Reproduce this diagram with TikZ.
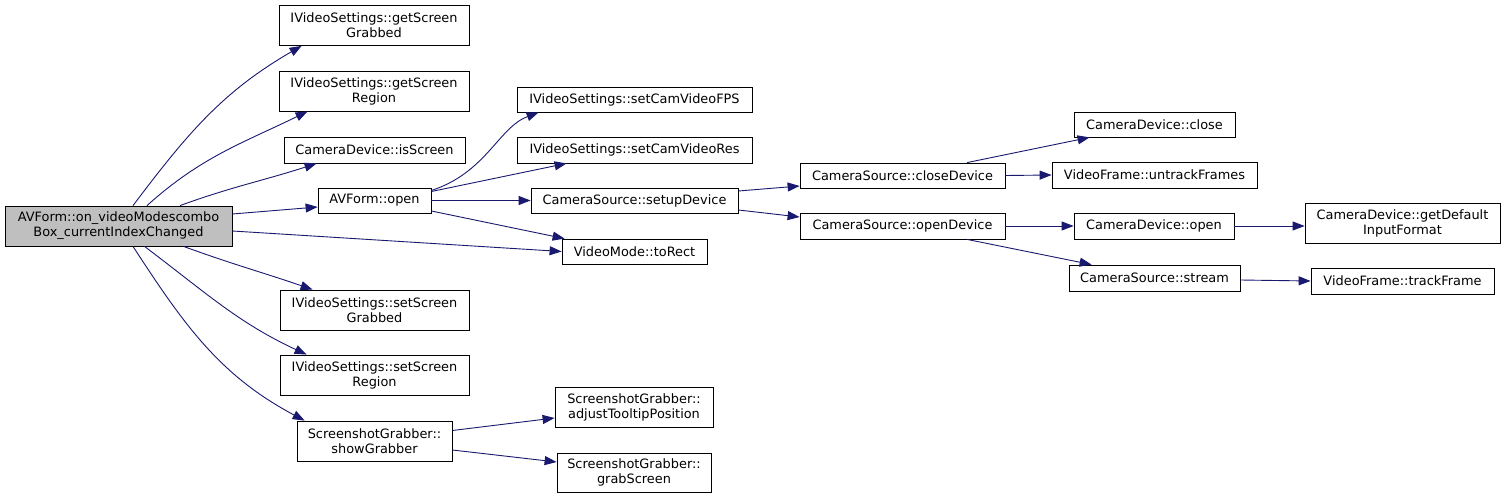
\documentclass[tikz,border=0pt]{standalone}
\usepackage{fontspec}
\setmainfont{DejaVu Sans}
\usetikzlibrary{arrows.meta}
\definecolor{edgeblue}{RGB}{25,25,112}
\definecolor{rootgray}{RGB}{191,191,191}
\tikzset{
  box/.style={draw=black, line width=0.8pt, fill=white, inner sep=0pt, align=center,
    font=\fontsize{12.9}{15}\selectfont},
  edge/.style={draw=edgeblue, line width=0.9pt, -{Triangle[length=12pt,width=9pt]}}
}
\begin{document}
\begin{tikzpicture}[x=1pt,y=1pt]
\useasboundingbox[fill=white] (0,0) rectangle (1505,499);
% nodes
\node[box, fill=rootgray, minimum width=227pt, minimum height=40pt] (root) at (118.5,273) {AVForm::on\_videoModescombo\\Box\_currentIndexChanged};
\node[box, minimum width=190pt, minimum height=40pt] (gsg) at (374,473.5) {IVideoSettings::getScreen\\Grabbed};
\node[box, minimum width=190pt, minimum height=40pt] (gsr) at (374,408) {IVideoSettings::getScreen\\Region};
\node[box, minimum width=181pt, minimum height=26pt] (isScreen) at (374.5,349) {CameraDevice::isScreen};
\node[box, minimum width=113pt, minimum height=25pt] (open) at (374.5,298.5) {AVForm::open};
\node[box, minimum width=189pt, minimum height=40pt] (ssg) at (374.5,189) {IVideoSettings::setScreen\\Grabbed};
\node[box, minimum width=189pt, minimum height=40pt] (ssr) at (374.5,124) {IVideoSettings::setScreen\\Region};
\node[box, minimum width=155pt, minimum height=40pt] (showG) at (374.5,58) {ScreenshotGrabber::\\showGrabber};
\node[box, minimum width=235pt, minimum height=25pt] (fps) at (634.5,399.5) {IVideoSettings::setCamVideoFPS};
\node[box, minimum width=235pt, minimum height=26pt] (res) at (634.5,349) {IVideoSettings::setCamVideoRes};
\node[box, minimum width=207pt, minimum height=25pt] (setup) at (634.5,298.5) {CameraSource::setupDevice};
\node[box, minimum width=145pt, minimum height=25pt] (toRect) at (634.5,247.5) {VideoMode::toRect};
\node[box, minimum width=158pt, minimum height=40pt] (adjust) at (634,92) {ScreenshotGrabber::\\adjustTooltipPosition};
\node[box, minimum width=154pt, minimum height=39pt] (grab) at (634,26.5) {ScreenshotGrabber::\\grabScreen};
\node[box, minimum width=205pt, minimum height=25pt] (closeD) at (902.5,323.5) {CameraSource::closeDevice};
\node[box, minimum width=205pt, minimum height=26pt] (openD) at (902.5,273) {CameraSource::openDevice};
\node[box, minimum width=161pt, minimum height=25pt] (camClose) at (1154.5,374.5) {CameraDevice::close};
\node[box, minimum width=205pt, minimum height=26pt] (untrack) at (1154.5,324) {VideoFrame::untrackFrames};
\node[box, minimum width=160pt, minimum height=26pt] (camOpen) at (1154,273) {CameraDevice::open};
\node[box, minimum width=171pt, minimum height=26pt] (stream) at (1154.5,221) {CameraSource::stream};
\node[box, minimum width=195pt, minimum height=40pt] (getDef) at (1402.5,276) {CameraDevice::getDefault\\InputFormat};
\node[box, minimum width=183pt, minimum height=26pt] (track) at (1402.5,218) {VideoFrame::trackFrame};
% edges
\draw[edge] ([xshift=14.5pt]root.north) to[out=53,in=210] ([xshift=23pt]gsg.south west);
\draw[edge] ([xshift=28.5pt]root.north) to[out=42,in=206] ([xshift=29pt]gsr.south west);
\draw[edge] ([xshift=61.5pt]root.north) to[out=20,in=198] ([xshift=33pt]isScreen.south west);
\draw[edge] ([yshift=12pt]root.east) -- ([yshift=-6.5pt]open.west);
\draw[edge] ([yshift=-5pt]root.east) -- (toRect.west);
\draw[edge] ([xshift=65pt]root.south) to[out=-20,in=161] ([xshift=33pt]ssg.north west);
\draw[edge] ([xshift=26pt]root.south) to[out=-37,in=155] ([xshift=27pt]ssr.north west);
\draw[edge] ([xshift=14.5pt]root.south) to[out=-57,in=152] ([xshift=8pt]showG.north west);
\draw[edge] ([yshift=10pt]open.east) .. controls +(55pt,18pt) and +(-40pt,-15pt) .. ([xshift=22pt]fps.south west);
\draw[edge] ([yshift=9pt]open.east) -- ([xshift=50pt]res.south west);
\draw[edge] (open.east) -- (setup.west);
\draw[edge] ([yshift=-10.5pt]open.east) -- ([xshift=3pt]toRect.north west);
\draw[edge] ([yshift=9.5pt]setup.east) -- ([yshift=-10.5pt]closeD.west);
\draw[edge] ([yshift=-9.5pt]setup.east) -- ([yshift=9pt]openD.west);
\draw[edge] ([xshift=64.5pt]closeD.north) -- ([xshift=16pt]camClose.south west);
\draw[edge] (closeD.east) -- (untrack.west);
\draw[edge] (openD.east) -- (camOpen.west);
\draw[edge] ([xshift=64.5pt]openD.south) -- ([xshift=23pt]stream.north west);
\draw[edge] (camOpen.east) -- (camOpen.east -| getDef.west);
\draw[edge] ([yshift=-2pt]stream.east) -- (track.west);
\draw[edge] ([yshift=10.5pt]showG.east) -- ([yshift=-11pt]adjust.west);
\draw[edge] ([yshift=-9pt]showG.east) -- ([yshift=10.5pt]grab.west);
\end{tikzpicture}
\end{document}
